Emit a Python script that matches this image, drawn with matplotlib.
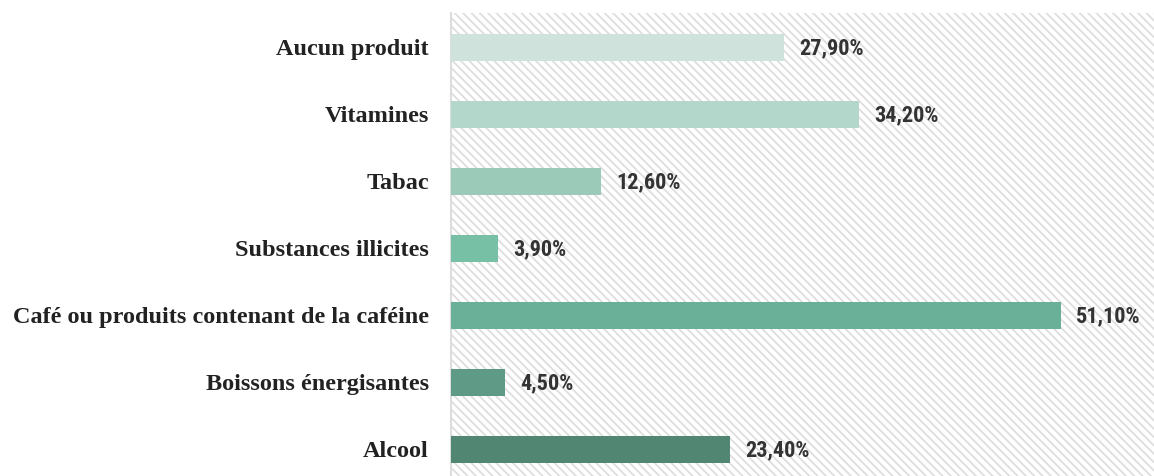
import matplotlib
matplotlib.use("Agg")
import matplotlib.pyplot as plt
from matplotlib import font_manager as fm

categories = ["Aucun produit", "Vitamines", "Tabac", "Substances illicites",
              "Café ou produits contenant de la caféine", "Boissons énergisantes", "Alcool"]
values = [27.9, 34.2, 12.6, 3.9, 51.1, 4.5, 23.4]
labels = ["27,90%", "34,20%", "12,60%", "3,90%", "51,10%", "4,50%", "23,40%"]
colors = ["#cfe2db", "#b4d7cb", "#9bcbb8", "#77bfa5", "#6aaf98", "#5e9a86", "#518673"]

names = {f.name for f in fm.fontManager.ttflist}
num_font, num_size = "DejaVu Sans", 13
for cand, sz in [("Roboto Condensed", 16), ("Open Sans Condensed", 16),
                 ("Liberation Sans Narrow", 17), ("DejaVu Sans Condensed", 14)]:
    if cand in names:
        num_font, num_size = cand, sz
        break

plt.rcParams['hatch.linewidth'] = 1.3
plt.rcParams['hatch.color'] = '#dedede'

fig = plt.figure(figsize=(11.54, 4.76), dpi=100)
ax = fig.add_axes([451/1154, 0, (1154-451)/1154, (476-13)/476])

n = len(categories)
ypos = list(range(n))[::-1]
ax.patch.set_facecolor("white")
ax.patch.set_hatch('\\\\\\\\')
ax.patch.set_edgecolor('#dedede')

ax.barh(ypos, values, height=0.4, color=colors, zorder=3)
for y, v, lab in zip(ypos, values, labels):
    ax.annotate(lab, (v, y), xytext=(11, -1), textcoords="offset points",
                va="center", ha="left", fontsize=num_size, fontweight="bold",
                color="#333333", family=num_font)

ax.set_xlim(0, 58.9)
ax.set_ylim(-0.4, n - 1 + 0.51)
ax.set_yticks(ypos)
ax.set_yticklabels(categories, family="Liberation Serif", fontweight="bold",
                   fontsize=17.5, color="#222222")
ax.tick_params(axis="y", length=0, pad=16)
ax.set_xticks([])
for s in ["top", "right", "bottom"]:
    ax.spines[s].set_visible(False)
ax.spines["left"].set_color("#dddddd")
ax.spines["left"].set_linewidth(1.5)

fig.savefig("out.png", dpi=100)
